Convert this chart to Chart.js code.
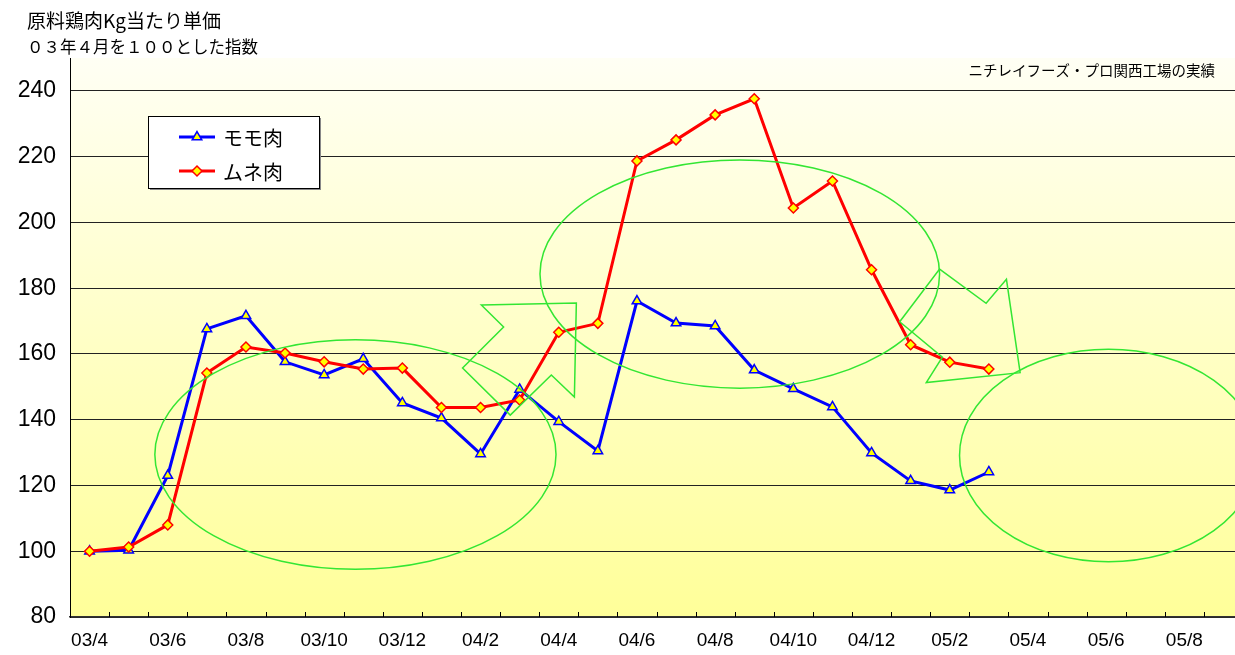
<!DOCTYPE html>
<html lang="ja">
<head>
<meta charset="utf-8">
<title>原料鶏肉Kg当たり単価</title>
<script src="https://cdn.jsdelivr.net/npm/chart.js@4.4.1/dist/chart.umd.min.js"></script>
<style>
  html, body { margin: 0; padding: 0; background: #fff; overflow: hidden; }
  #wrap { width: 1250px; height: 655px; }
</style>
</head>
<body>
<div id="wrap"><canvas id="c" width="1250" height="655"></canvas></div>
<script>
// 月 (03/4 - 05/9)
const months = [
  '03/4', '03/5', '03/6', '03/7', '03/8', '03/9', '03/10', '03/11', '03/12',
  '04/1', '04/2', '04/3', '04/4', '04/5', '04/6', '04/7', '04/8', '04/9', '04/10', '04/11', '04/12',
  '05/1', '05/2', '05/3', '05/4', '05/5', '05/6', '05/7', '05/8', '05/9'
];

// 03年4月 = 100 とした指数
const momo = [100, 100.3, 123, 167.6, 171.6, 157.6, 153.6, 158.5, 145.1, 140.5, 129.6, 149.2,
  139.4, 130.5, 176.1, 169.4, 168.5, 155.1, 149.4, 143.9, 129.9, 121.4, 118.6, 124.1];
const mune = [100, 101.3, 108, 154.2, 162.1, 160.3, 157.6, 155.4, 155.7, 143.7, 143.7, 146.0,
  166.6, 169.3, 218.7, 225.1, 232.7, 237.6, 204.4, 212.6, 185.6, 162.8, 157.5, 155.4];

const yTicks = [80, 100, 120, 140, 160, 180, 200, 220, 240];

const titleLines = ['原料鶏肉Kg当たり単価', '０３年４月を１００とした指数'];
const noteText = 'ニチレイフーズ・プロ関西工場の実績';

// green hand-drawn marks, in (month index, index value) units
const ellipses = [
  { cx: 6.80, cy: 129.4, rx: 5.13, ry: 34.9 },
  { cx: 16.63, cy: 184.3, rx: 5.11, ry: 34.7 },
  { cx: 26.06, cy: 129.1, rx: 3.81, ry: 32.3 }
];
const arrows = [
  [[10.02, 174.9], [12.45, 175.5], [12.40, 146.9], [11.81, 153.6], [10.76, 141.4], [9.54, 155.7], [10.59, 168.2]],
  [[21.74, 185.8], [22.93, 175.4], [23.45, 182.7], [23.80, 154.3], [21.40, 151.3], [21.81, 159.0], [20.72, 169.8]]
];

const plotBg = {
  id: 'plotBg',
  beforeDraw(chart) {
    const { ctx, chartArea: a } = chart;
    const g = ctx.createLinearGradient(0, a.top, 0, a.bottom);
    g.addColorStop(0, '#fffff4');
    g.addColorStop(1, '#ffff99');
    ctx.save();
    ctx.fillStyle = g;
    ctx.fillRect(a.left, a.top, a.right - a.left, a.bottom - a.top);
    ctx.restore();
  }
};

const marks = {
  id: 'marks',
  afterDatasetsDraw(chart) {
    const { ctx, chartArea: a } = chart;
    const x = chart.scales.x, y = chart.scales.y;
    const perX = x.getPixelForValue(1) - x.getPixelForValue(0);
    const perY = y.getPixelForValue(0) - y.getPixelForValue(1);

    ctx.save();
    // inside tick marks on the category axis
    ctx.strokeStyle = '#000';
    ctx.lineWidth = 1;
    for (let i = 0; i <= months.length; i++) {
      const px = Math.round(x.getPixelForValue(i - 0.5)) + 0.5;
      ctx.beginPath();
      ctx.moveTo(px, a.bottom);
      ctx.lineTo(px, a.bottom - 5);
      ctx.stroke();
    }

    ctx.strokeStyle = '#33e633';
    ctx.lineWidth = 1.5;
    ellipses.forEach(e => {
      ctx.beginPath();
      ctx.ellipse(x.getPixelForValue(e.cx), y.getPixelForValue(e.cy), e.rx * perX, e.ry * perY, 0, 0, Math.PI * 2);
      ctx.stroke();
    });
    arrows.forEach(pts => {
      ctx.beginPath();
      pts.forEach(([i, v], k) => {
        const px = x.getPixelForValue(i), py = y.getPixelForValue(v);
        if (k === 0) ctx.moveTo(px, py); else ctx.lineTo(px, py);
      });
      ctx.closePath();
      ctx.stroke();
    });
    ctx.restore();
  }
};

const texts = {
  id: 'texts',
  afterDraw(chart) {
    const ctx = chart.ctx;
    ctx.save();
    ctx.fillStyle = '#000';
    ctx.textBaseline = 'middle';
    ctx.textAlign = 'left';
    ctx.font = '19px "Noto Sans CJK JP", sans-serif';
    ctx.fillText(titleLines[0], 27, 21);
    ctx.font = '16.5px "Noto Sans CJK JP", sans-serif';
    ctx.fillText(titleLines[1], 27, 47);
    ctx.textAlign = 'right';
    ctx.font = '14.5px "Noto Sans CJK JP", sans-serif';
    ctx.fillText(noteText, 1215, 70);

    // legend box
    const bx = 148, by = 116, bw = 171, bh = 72;
    ctx.fillStyle = '#888';
    ctx.fillRect(bx + 2, by + 2, bw, bh);
    ctx.fillStyle = '#fff';
    ctx.fillRect(bx, by, bw, bh);
    ctx.strokeStyle = '#000';
    ctx.lineWidth = 1;
    ctx.strokeRect(bx + 0.5, by + 0.5, bw, bh);

    const draw = Chart.helpers && Chart.helpers.drawPoint;
    ctx.textAlign = 'left';
    ctx.font = '20px "Noto Sans CJK JP", sans-serif';
    chart.data.datasets.forEach((ds, i) => {
      const ly = by + 21 + i * 34;
      ctx.strokeStyle = ds.borderColor;
      ctx.lineWidth = 3;
      ctx.beginPath();
      ctx.moveTo(179, ly);
      ctx.lineTo(215, ly);
      ctx.stroke();
      ctx.fillStyle = ds.pointBackgroundColor;
      ctx.strokeStyle = ds.pointBorderColor;
      ctx.lineWidth = ds.pointBorderWidth;
      if (draw) draw(ctx, { pointStyle: ds.pointStyle, radius: ds.pointRadius, borderWidth: ds.pointBorderWidth, rotation: 0 }, 197, ly);
      ctx.fillStyle = '#000';
      ctx.fillText(ds.label, 223, ly + 1);
    });
    ctx.restore();
  }
};

new Chart(document.getElementById('c'), {
  type: 'line',
  data: {
    labels: months,
    datasets: [
      {
        label: 'モモ肉',
        data: momo,
        borderColor: '#0000ff',
        borderWidth: 3,
        pointStyle: 'triangle',
        pointRadius: 5.5,
        pointBackgroundColor: '#ffff00',
        pointBorderColor: '#0000ff',
        pointBorderWidth: 1.5,
        tension: 0,
        order: 1
      },
      {
        label: 'ムネ肉',
        data: mune,
        borderColor: '#ff0000',
        borderWidth: 3,
        pointStyle: 'rectRot',
        pointRadius: 5,
        pointBackgroundColor: '#ffff00',
        pointBorderColor: '#ff0000',
        pointBorderWidth: 1.5,
        tension: 0,
        order: 0
      }
    ]
  },
  options: {
    responsive: false,
    animation: false,
    layout: { padding: { top: 58, left: 0, right: 5.5, bottom: 0 } },
    plugins: {
      legend: { display: false },
      tooltip: { enabled: false },
      title: { display: false }
    },
    scales: {
      x: {
        offset: true,
        afterFit: s => { s.height = 38; },
        border: { color: '#333', width: 1.5 },
        grid: { drawOnChartArea: false, drawTicks: false },
        ticks: {
          autoSkip: false,
          maxRotation: 0,
          color: '#000',
          padding: 12,
          font: { family: '"Liberation Sans", Arial, sans-serif', size: 19 },
          callback: (v, i) => (i % 2 === 0 ? months[i] : '')
        }
      },
      y: {
        min: 80,
        max: 250,
        afterBuildTicks: s => { s.ticks = yTicks.map(v => ({ value: v })); },
        afterFit: s => { s.width = 70; },
        border: { color: '#000', width: 1 },
        grid: { color: '#222', lineWidth: 1, drawTicks: false },
        ticks: {
          color: '#000',
          padding: 14,
          font: { family: '"Liberation Sans", Arial, sans-serif', size: 23 }
        }
      }
    }
  },
  plugins: [plotBg, marks, texts]
});
</script>
</body>
</html>
